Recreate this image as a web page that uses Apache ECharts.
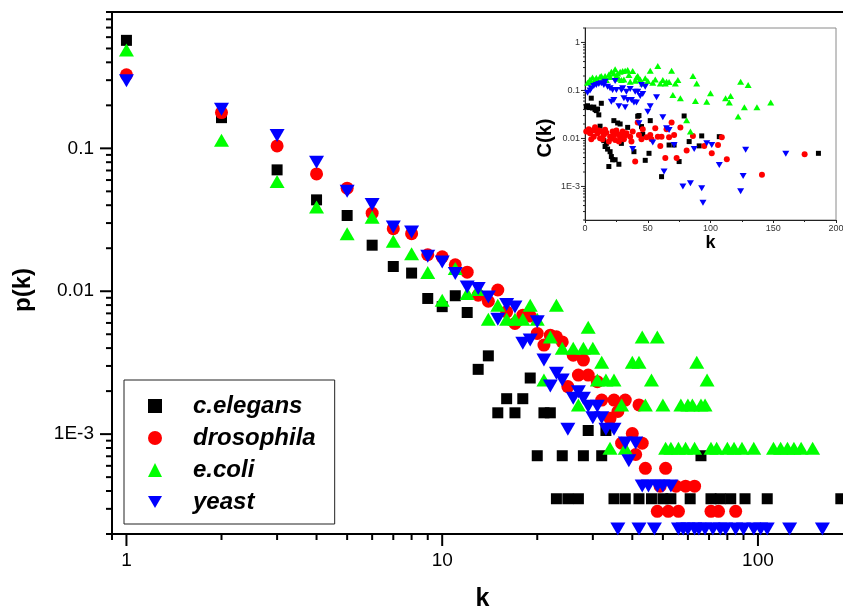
<!DOCTYPE html>
<html>
<head>
<meta charset="utf-8">
<script src="https://cdn.jsdelivr.net/npm/echarts@6/dist/echarts.min.js"></script>
<style>
  html, body { margin: 0; padding: 0; background: #ffffff; }
  #chart { width: 843px; height: 612px; }
</style>
</head>
<body>
<div id="chart"></div>
<script>
// Degree distributions p(k) of four protein networks, with the clustering
// spectrum C(k) shown in an inset.

const FONT = "'Liberation Sans', Arial, Helvetica, sans-serif";

const seriesNames = ['c.elegans', 'drosophila', 'e.coli', 'yeast'];
const seriesColors = ['#000000', '#ff0000', '#00ff00', '#0000ff'];
// downward-pointing triangle used for yeast in the legend
const DOWN_TRIANGLE = 'path://M0,0L15,0L7.5,13Z';

// ---- p(k): [k, p(k)] ----
const celegansPk = [
  [1, 0.57], [2, 0.164], [3, 0.0707], [4, 0.0436], [5, 0.0339], [6, 0.021], [7, 0.0149], [8, 0.0134],
  [9, 0.0089], [10, 0.0078], [11, 0.0093], [12, 0.0071], [13, 0.00284], [14, 0.00353], [15, 0.00141],
  [16, 0.00177], [17, 0.00141], [18, 0.00177], [19, 0.00247], [20, 0.000706], [21, 0.00141], [22, 0.00141],
  [23, 0.000353], [24, 0.000706], [25, 0.000353], [27, 0.000353], [28, 0.000706], [29, 0.00106],
  [32, 0.000706], [33, 0.00106], [35, 0.000353], [38, 0.000353], [42, 0.000353], [46, 0.000353],
  [50, 0.000353], [53, 0.000353], [61, 0.000353], [66, 0.000706], [71, 0.000353], [76, 0.000353],
  [82, 0.000353], [91, 0.000353], [107, 0.000353], [183, 0.000353]
];

const drosophilaPk = [
  [1, 0.327], [2, 0.178], [3, 0.104], [4, 0.0662], [5, 0.0526], [6, 0.0352], [7, 0.0274], [8, 0.0253],
  [9, 0.018], [10, 0.0174], [11, 0.0153], [12, 0.0136], [13, 0.00938], [14, 0.00851], [15, 0.0102],
  [16, 0.00718], [17, 0.00595], [18, 0.0068], [19, 0.0067], [20, 0.00507], [21, 0.0042], [22, 0.00493],
  [23, 0.0048], [24, 0.00442], [25, 0.00215], [26, 0.00357], [27, 0.00259], [28, 0.0033], [29, 0.00259],
  [31, 0.00233], [32, 0.00173], [34, 0.00129], [35, 0.00173], [36, 0.00144], [37, 0.000865], [38, 0.00173],
  [40, 0.00101], [41, 0.00072], [42, 0.0016], [43, 0.000865], [44, 0.000576], [48, 0.000288], [49, 0.000432],
  [51, 0.000576], [52, 0.000288], [55, 0.000432], [56, 0.000288], [59, 0.000432], [63, 0.000432],
  [71, 0.000288], [75, 0.000288], [85, 0.000288]
];

const ecoliPk = [
  [1, 0.487], [2, 0.114], [3, 0.0586], [4, 0.0388], [5, 0.0253], [6, 0.033], [7, 0.0224], [8, 0.0183],
  [9, 0.0135], [10, 0.00865], [11, 0.0144], [12, 0.00964], [13, 0.0103], [14, 0.00638], [15, 0.00798],
  [16, 0.00638], [17, 0.00638], [18, 0.00638], [19, 0.00798], [20, 0.00638], [21, 0.00239], [22, 0.00479],
  [23, 0.00798], [24, 0.00399], [26, 0.00399], [27, 0.0016], [28, 0.00399], [29, 0.00559], [30, 0.00399],
  [31, 0.00239], [32, 0.00319], [33, 0.00239], [34, 0.000798], [35, 0.00239], [37, 0.0016], [38, 0.000798],
  [40, 0.00319], [42, 0.00319], [43, 0.00479], [44, 0.0016], [46, 0.00239], [48, 0.00479], [50, 0.0016],
  [51, 0.000798], [53, 0.000798], [56, 0.000798], [57, 0.0016], [59, 0.000798], [60, 0.0016], [62, 0.0016],
  [63, 0.000798], [64, 0.00319], [66, 0.0016], [68, 0.0016], [69, 0.00239], [71, 0.000798], [74, 0.000798],
  [80, 0.000798], [84, 0.000798], [89, 0.000798], [97, 0.000798], [112, 0.000798], [118, 0.000798],
  [124, 0.000798], [130, 0.000798], [137, 0.000798], [149, 0.000798]
];

const yeastPk = [
  [1, 0.297], [2, 0.188], [3, 0.123], [4, 0.0798], [5, 0.0501], [6, 0.0405], [7, 0.0281], [8, 0.026],
  [9, 0.0176], [10, 0.016], [11, 0.0133], [12, 0.0107], [13, 0.01045], [14, 0.00912], [15, 0.00638],
  [16, 0.00807], [17, 0.00776], [18, 0.00432], [19, 0.00455], [20, 0.00611], [21, 0.0033], [22, 0.00217],
  [23, 0.00267], [24, 0.00239], [25, 0.00108], [26, 0.00178], [27, 0.00198], [28, 0.00178], [29, 0.00157],
  [30, 0.0013], [31, 0.00157], [32, 0.0013], [33, 0.00108], [35, 0.00108], [36, 0.000217], [38, 0.000868],
  [39, 0.000651], [41, 0.000868], [42, 0.000217], [43, 0.000434], [45, 0.000434], [47, 0.000217],
  [48, 0.000434], [50, 0.000434], [53, 0.000434], [56, 0.000217], [58, 0.000217], [60, 0.000217],
  [63, 0.000217], [65, 0.000217], [68, 0.000217], [72, 0.000217], [76, 0.000217], [79, 0.000217],
  [85, 0.000217], [90, 0.000217], [97, 0.000217], [102, 0.000217], [107, 0.000217], [126, 0.000217],
  [160, 0.000217]
];

// ---- C(k): [k, C(k)] ----
const celegansCk = [
  [1, 0.046], [2, 0.048], [3, 0.044], [4, 0.045], [5, 0.069], [6, 0.043], [7, 0.045], [8, 0.040], [9, 0.038],
  [10, 0.041], [11, 0.031], [12, 0.018], [13, 0.054], [15, 0.009], [16, 0.0068], [17, 0.0079], [18, 0.006],
  [19, 0.0026], [20, 0.0053], [21, 0.0042], [22, 0.0036], [23, 0.0235], [24, 0.0036], [26, 0.021],
  [27, 0.0029], [28, 0.020], [29, 0.0079], [34, 0.017], [39, 0.0053], [42, 0.029], [43, 0.030], [45, 0.0177],
  [46, 0.0122], [48, 0.0035], [51, 0.0049], [52, 0.0235], [61, 0.0016], [67, 0.0073], [71, 0.0073],
  [75, 0.0033], [79, 0.0294], [83, 0.0086], [91, 0.007], [93, 0.0113], [107, 0.0109], [186, 0.0049]
];

const drosophilaCk = [
  [1, 0.0139], [3, 0.0155], [4, 0.0128], [5, 0.0096], [6, 0.0146], [7, 0.0109], [8, 0.0171], [9, 0.0146],
  [10, 0.0128], [11, 0.0146], [12, 0.0101], [13, 0.0139], [14, 0.0096], [15, 0.0118], [16, 0.0151],
  [17, 0.0132], [19, 0.0086], [20, 0.0109], [21, 0.0101], [22, 0.0139], [23, 0.0118], [24, 0.0093],
  [25, 0.0146], [26, 0.0124], [27, 0.0086], [28, 0.0106], [29, 0.0118], [30, 0.0139], [31, 0.0096],
  [32, 0.0115], [33, 0.0128], [36, 0.0109], [37, 0.0086], [38, 0.0139], [40, 0.0033], [42, 0.0214],
  [43, 0.0118], [45, 0.0096], [46, 0.0155], [49, 0.0106], [52, 0.0118], [53, 0.0096], [56, 0.0163],
  [58, 0.0109], [60, 0.007], [61, 0.0109], [64, 0.0039], [65, 0.0155], [67, 0.0106], [69, 0.0214],
  [71, 0.0118], [73, 0.0039], [76, 0.017], [81, 0.0056], [86, 0.0113], [95, 0.007], [101, 0.0049],
  [106, 0.0073], [109, 0.0106], [113, 0.0037], [141, 0.00175], [175, 0.0047]
];

const ecoliCk = [
  [2, 0.145], [4, 0.170], [5, 0.15], [6, 0.187], [8, 0.165], [9, 0.184], [10, 0.16], [12, 0.193], [13, 0.2],
  [14, 0.170], [16, 0.200], [17, 0.165], [19, 0.216], [20, 0.19], [21, 0.245], [23, 0.226], [24, 0.275],
  [25, 0.2], [26, 0.226], [27, 0.175], [28, 0.245], [29, 0.165], [30, 0.254], [31, 0.17], [32, 0.258],
  [34, 0.266], [35, 0.21], [36, 0.152], [38, 0.254], [40, 0.16], [41, 0.187], [42, 0.2], [44, 0.170],
  [46, 0.140], [48, 0.18], [50, 0.157], [52, 0.258], [54, 0.145], [56, 0.17], [58, 0.322], [60, 0.140],
  [62, 0.165], [64, 0.14], [65, 0.152], [67, 0.15], [69, 0.258], [70, 0.080], [72, 0.14], [74, 0.165],
  [76, 0.069], [81, 0.024], [84, 0.0139], [86, 0.200], [88, 0.060], [89, 0.140], [97, 0.058], [100, 0.087],
  [112, 0.069], [115, 0.056], [116, 0.077], [122, 0.0285], [124, 0.152], [127, 0.0446], [130, 0.130],
  [137, 0.0446], [148, 0.056]
];

const yeastCk = [
  [2, 0.090], [4, 0.100], [5, 0.111], [7, 0.124], [9, 0.130], [11, 0.136], [13, 0.141], [15, 0.130],
  [16, 0.152], [18, 0.120], [20, 0.111], [21, 0.058], [22, 0.102], [23, 0.063], [24, 0.157], [25, 0.102],
  [27, 0.047], [29, 0.102], [30, 0.111], [31, 0.069], [32, 0.0446], [33, 0.094], [34, 0.063], [36, 0.107],
  [37, 0.063], [38, 0.006], [39, 0.056], [40, 0.094], [41, 0.056], [42, 0.094], [43, 0.0207], [44, 0.077],
  [45, 0.130], [46, 0.084], [48, 0.120], [50, 0.036], [52, 0.047], [54, 0.0082], [57, 0.072], [62, 0.0276],
  [63, 0.00205], [65, 0.0163], [67, 0.015], [71, 0.0073], [78, 0.001], [84, 0.00117], [87, 0.006],
  [93, 0.00092], [94, 0.00046], [97, 0.0079], [101, 0.0073], [107, 0.0028], [124, 0.00079], [126, 0.00166],
  [128, 0.0058], [160, 0.0048]
];

// ---- axes ----
const K_MIN = 0.9, K_MAX = 200;
const P_MIN = 2e-4, P_MAX = 0.9;
const C_MIN = 2e-4, C_MAX = 2;
const INSET_K_MIN = 0, INSET_K_MAX = 200, INSET_K_STEP = 50;

const mainXTickValues = [1, 10, 100];
const mainXTickLabels = ['1', '10', '100'];
const mainYTickValues = [0.001, 0.01, 0.1];
const mainYTickLabels = ['1E-3', '0.01', '0.1'];
const insetYTickValues = [0.001, 0.01, 0.1, 1];
const insetYTickLabels = ['1E-3', '0.01', '0.1', '1'];

function isPow10(v) {
  const l = Math.log10(v);
  return Math.abs(l - Math.round(l)) < 1e-9;
}

// 1..9 x 10^n tick positions spanning [lo, hi]
function logTickValues(lo, hi) {
  const out = [];
  for (let e = Math.floor(Math.log10(lo)) - 1; e <= Math.ceil(Math.log10(hi)); e++) {
    for (let m = 1; m <= 9; m++) {
      const v = parseFloat((m * Math.pow(10, e)).toPrecision(6));
      if (v >= lo * (1 - 1e-9) && v <= hi * (1 + 1e-9)) out.push(v);
    }
  }
  return out;
}

function labelFormatter(values, labels) {
  return function (v) {
    for (let i = 0; i < values.length; i++) {
      if (Math.abs(Math.log10(v) - Math.log10(values[i])) < 1e-6) return labels[i];
    }
    return '';
  };
}

// Draws log-axis ticks: long ones at powers of ten, short ones in between.
function tickSeries(xAxisIndex, yAxisIndex, dir, values, anchor, majorLen, minorLen, width, color) {
  return {
    type: 'custom',
    coordinateSystem: 'cartesian2d',
    xAxisIndex: xAxisIndex,
    yAxisIndex: yAxisIndex,
    silent: true,
    clip: false,
    z: 3,
    data: values.map(v => dir === 'x' ? [v, anchor] : [anchor, v]),
    renderItem: function (params, api) {
      const xv = api.value(0), yv = api.value(1);
      const p = api.coord([xv, yv]);
      const len = isPow10(dir === 'x' ? xv : yv) ? majorLen : minorLen;
      const shape = dir === 'x'
        ? { x1: p[0], y1: p[1], x2: p[0], y2: p[1] + len }
        : { x1: p[0], y1: p[1], x2: p[0] - len, y2: p[1] };
      return { type: 'line', shape: shape, style: { stroke: color, lineWidth: width } };
    }
  };
}

const mainAxisLine = { show: true, onZero: false, lineStyle: { color: '#000', width: 2 } };
const insetAxisLine = { show: true, onZero: false, lineStyle: { color: '#222', width: 1 } };

const option = {
  animation: false,
  backgroundColor: '#ffffff',
  textStyle: { fontFamily: FONT },
  grid: [
    { left: 112, top: 12, right: -10, bottom: 78, containLabel: false, outerBoundsMode: 'none' },
    { left: 585, top: 28, right: 7, bottom: 392, containLabel: false, outerBoundsMode: 'none',
      show: true, backgroundColor: '#ffffff', borderColor: '#8a8a8a', borderWidth: 1 }
  ],
  legend: {
    data: [
      { name: seriesNames[0] },
      { name: seriesNames[1] },
      { name: seriesNames[2] },
      { name: seriesNames[3], icon: DOWN_TRIANGLE }
    ],
    orient: 'vertical',
    left: 124,
    top: 380,
    padding: [14, 19, 10, 24],
    itemGap: 8,
    itemWidth: 14,
    itemHeight: 14,
    borderColor: '#222',
    borderWidth: 1,
    backgroundColor: '#ffffff',
    selectedMode: false,
    textStyle: { fontFamily: FONT, fontSize: 24, fontWeight: 'bold', fontStyle: 'italic', color: '#000',
      padding: [0, 0, 0, 26] }
  },
  xAxis: [
    {
      type: 'log', gridIndex: 0, min: K_MIN, max: K_MAX,
      axisLine: mainAxisLine, axisTick: { show: false }, minorTick: { show: false }, splitLine: { show: false },
      axisLabel: { formatter: labelFormatter(mainXTickValues, mainXTickLabels), fontSize: 19, color: '#000',
        margin: 17, fontFamily: FONT, showMinLabel: true, showMaxLabel: true },
      name: 'k', nameLocation: 'middle', nameGap: 53, nameMoveOverlap: false,
      nameTextStyle: { fontSize: 25, fontWeight: 'bold', color: '#000', fontFamily: FONT }
    },
    {
      type: 'log', gridIndex: 0, position: 'top', min: K_MIN, max: K_MAX,
      axisLine: mainAxisLine, axisTick: { show: false }, axisLabel: { show: false }, splitLine: { show: false }
    },
    {
      type: 'value', gridIndex: 1, min: INSET_K_MIN, max: INSET_K_MAX, interval: INSET_K_STEP,
      axisLine: insetAxisLine,
      axisTick: { show: true, length: 3, lineStyle: { color: '#222', width: 1 } },
      minorTick: { show: true, splitNumber: 2, length: 2, lineStyle: { color: '#222', width: 1 } },
      splitLine: { show: false },
      axisLabel: { fontSize: 9, color: '#333', margin: 4, fontFamily: FONT },
      name: 'k', nameLocation: 'middle', nameGap: 14, nameMoveOverlap: false,
      nameTextStyle: { fontSize: 18, fontWeight: 'bold', color: '#000', fontFamily: FONT }
    }
  ],
  yAxis: [
    {
      type: 'log', gridIndex: 0, min: P_MIN, max: P_MAX,
      axisLine: mainAxisLine, axisTick: { show: false }, minorTick: { show: false }, splitLine: { show: false },
      axisLabel: { formatter: labelFormatter(mainYTickValues, mainYTickLabels), fontSize: 19, color: '#000',
        margin: 18, fontFamily: FONT },
      name: 'p(k)', nameLocation: 'middle', nameGap: 77, nameRotate: 90, nameMoveOverlap: false,
      nameTextStyle: { fontSize: 24, fontWeight: 'bold', color: '#000', fontFamily: FONT, padding: [0, 34, 0, 0] }
    },
    {
      type: 'log', gridIndex: 1, min: C_MIN, max: C_MAX,
      axisLine: insetAxisLine, axisTick: { show: false }, minorTick: { show: false }, splitLine: { show: false },
      axisLabel: { formatter: labelFormatter(insetYTickValues, insetYTickLabels), fontSize: 9, color: '#333',
        margin: 5, fontFamily: FONT },
      name: 'C(k)', nameLocation: 'middle', nameGap: 30, nameRotate: 90, nameMoveOverlap: false,
      nameTextStyle: { fontSize: 20, fontWeight: 'bold', color: '#000', fontFamily: FONT, padding: [0, 28, 0, 0] }
    }
  ],
  series: [
    { name: seriesNames[0], type: 'scatter', xAxisIndex: 0, yAxisIndex: 0, data: celegansPk,
      symbol: 'rect', symbolSize: 11, itemStyle: { color: seriesColors[0], opacity: 1 }, z: 4 },
    { name: seriesNames[1], type: 'scatter', xAxisIndex: 0, yAxisIndex: 0, data: drosophilaPk,
      symbol: 'circle', symbolSize: 13, itemStyle: { color: seriesColors[1], opacity: 1 }, z: 5 },
    { name: seriesNames[2], type: 'scatter', xAxisIndex: 0, yAxisIndex: 0, data: ecoliPk,
      symbol: 'triangle', symbolSize: [15, 13], itemStyle: { color: seriesColors[2], opacity: 1 }, z: 6 },
    { name: seriesNames[3], type: 'scatter', xAxisIndex: 0, yAxisIndex: 0, data: yeastPk,
      symbol: 'triangle', symbolRotate: 180, symbolSize: [15, 13], itemStyle: { color: seriesColors[3], opacity: 1 }, z: 7 },

    { name: seriesNames[0], type: 'scatter', xAxisIndex: 2, yAxisIndex: 1, data: celegansCk,
      symbol: 'rect', symbolSize: 5, itemStyle: { color: seriesColors[0], opacity: 1 }, z: 4 },
    { name: seriesNames[1], type: 'scatter', xAxisIndex: 2, yAxisIndex: 1, data: drosophilaCk,
      symbol: 'circle', symbolSize: 6, itemStyle: { color: seriesColors[1], opacity: 1 }, z: 5 },
    { name: seriesNames[2], type: 'scatter', xAxisIndex: 2, yAxisIndex: 1, data: ecoliCk,
      symbol: 'triangle', symbolSize: [7, 6], itemStyle: { color: seriesColors[2], opacity: 1 }, z: 6 },
    { name: seriesNames[3], type: 'scatter', xAxisIndex: 2, yAxisIndex: 1, data: yeastCk,
      symbol: 'triangle', symbolRotate: 180, symbolSize: [7, 6], itemStyle: { color: seriesColors[3], opacity: 1 }, z: 7 },

    tickSeries(0, 0, 'x', logTickValues(K_MIN, K_MAX), P_MIN, 12, 6, 2, '#000'),
    tickSeries(0, 0, 'y', logTickValues(P_MIN, P_MAX), K_MIN, 12, 6, 2, '#000'),
    tickSeries(2, 1, 'y', logTickValues(C_MIN, C_MAX), INSET_K_MIN, 4, 2, 1, '#222')
  ]
};

const chart = echarts.init(document.getElementById('chart'), null, { renderer: 'canvas' });
chart.setOption(option);
</script>
</body>
</html>
